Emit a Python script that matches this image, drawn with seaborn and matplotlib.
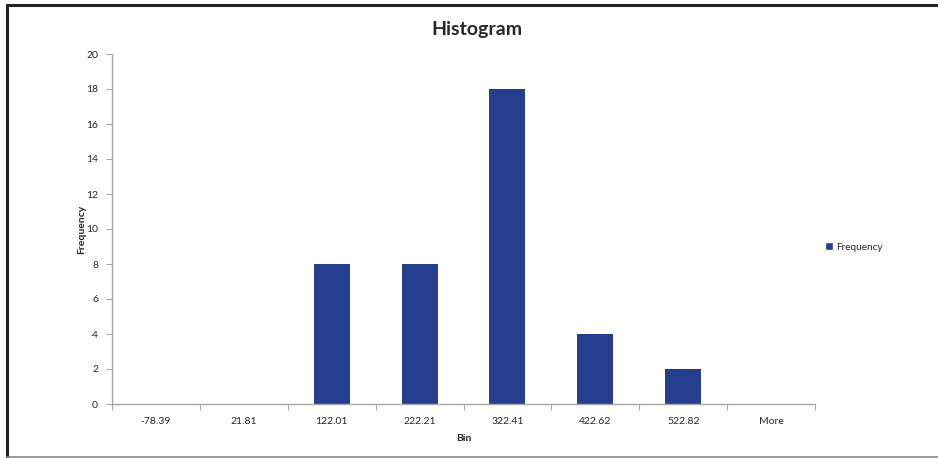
import numpy as np
import pandas as pd
import seaborn as sns
import matplotlib.pyplot as plt
from matplotlib.lines import Line2D
from matplotlib.patches import Patch

# histogram bins and counts
bins = ["-78.39", "21.81", "122.01", "222.21", "322.41", "422.62", "522.82", "More"]
frequency = [0, 0, 8, 8, 18, 4, 2, 0]

df = pd.DataFrame({"Bin": bins, "Frequency": frequency})

sns.set_style("white")
plt.rcParams["font.family"] = ["Lato", "DejaVu Sans"]

bar_color = "#253E8E"
axis_gray = "#A6A6A6"

fig = plt.figure(figsize=(9.38, 4.58), dpi=100)
ax = fig.add_axes([112 / 938, 1 - 404 / 458, 703 / 938, 350 / 458])

sns.barplot(data=df, x="Bin", y="Frequency", color=bar_color, width=0.41,
            saturation=1, linewidth=0, ax=ax)

ax.set_xlim(-0.5, len(bins) - 0.5)
ax.set_ylim(0, 20)
ax.set_yticks(range(0, 21, 2))

for s in ["top", "right"]:
    ax.spines[s].set_visible(False)
for s in ["left", "bottom"]:
    ax.spines[s].set_color(axis_gray)
    ax.spines[s].set_linewidth(1)

ax.tick_params(axis="y", which="major", length=4, width=0.8, color=axis_gray,
               labelsize=7.5, pad=6, left=True)
ax.tick_params(axis="x", which="major", length=0, labelsize=7.5, pad=9)
ax.set_xticks(np.arange(-0.5, len(bins), 1), minor=True)
ax.tick_params(axis="x", which="minor", length=4, width=0.8, color=axis_gray,
               bottom=True)

ax.set_xlabel("Bin", fontsize=7.5, fontweight="bold", labelpad=6)
ax.set_ylabel("Frequency", fontsize=7.5, fontweight="bold", labelpad=0)

fig.text(477 / 938, 1 - 29 / 458, "Histogram", ha="center", va="center",
         fontsize=14, fontweight="bold")

fig.legend(handles=[Patch(facecolor=bar_color, label="Frequency")],
           loc="center left", bbox_to_anchor=(816 / 938, 1 - 247 / 458),
           frameon=False, fontsize=7.2, handlelength=0.8, handleheight=0.8,
           handletextpad=0.3)

# chart border
fig.add_artist(Line2D([7 / 938, 7 / 938], [0.003, 1 - 5 / 458], color="#222222",
                      lw=2.2, transform=fig.transFigure))
fig.add_artist(Line2D([7 / 938, 1], [1 - 5 / 458, 1 - 5 / 458], color="#222222",
                      lw=2.2, transform=fig.transFigure))
fig.add_artist(Line2D([7 / 938, 1], [1 - 456.5 / 458, 1 - 456.5 / 458],
                      color="#888888", lw=1.2, transform=fig.transFigure))

fig.savefig("out.png", dpi=100)
